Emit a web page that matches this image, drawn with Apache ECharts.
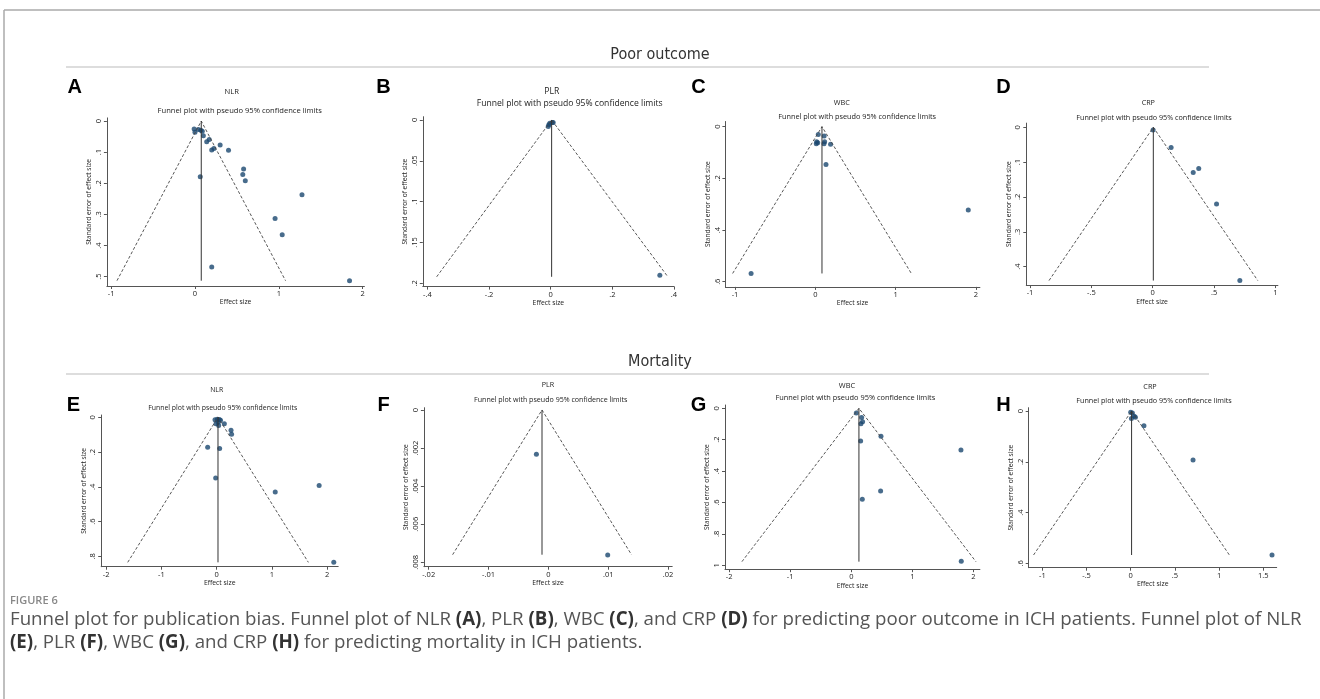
<!DOCTYPE html>
<html>
<head>
<meta charset="utf-8">
<script src="https://cdn.jsdelivr.net/npm/echarts@6/dist/echarts.min.js"></script>
<style>
html, body { margin: 0; padding: 0; background: #fff; }
#fig { width: 1320px; height: 699px; }
</style>
</head>
<body>
<div id="fig"></div>
<script>
// effect size / standard error pairs
var nlrPoor = [[-0.01,0.026],[0,0.036],[0.04,0.027],[0.07,0.03],[0.087,0.033],[0.1,0.047],[0.14,0.067],[0.17,0.059],[0.2,0.093],[0.226,0.088],[0.3,0.077],[0.4,0.094],[0.58,0.154],[0.57,0.172],[0.6,0.192],[0.063,0.179],[1.276,0.237],[0.955,0.313],[1.04,0.365],[0.2,0.469],[1.843,0.513]];
var plrPoor = [[-0.008,0.008],[-0.006,0.006],[-0.003,0.004],[0.005,0.003],[0.008,0.003],[0.354,0.19]];
var wbcPoor = [[0.037,0.03],[0.017,0.058],[0.03,0.062],[0.012,0.066],[0.11,0.036],[0.116,0.058],[0.108,0.066],[0.19,0.068],[0.133,0.146],[-0.8,0.568],[1.905,0.322]];
var crpPoor = [[0.003,0.008],[0.15,0.058],[0.33,0.13],[0.375,0.118],[0.52,0.22],[0.71,0.44]];
var nlrMort = [[-0.03,0.015],[0.012,0.012],[0.048,0.013],[0.07,0.017],[-0.012,0.038],[0.036,0.048],[0.03,0.029],[0.139,0.038],[0.26,0.075],[0.27,0.098],[-0.163,0.173],[0.054,0.18],[-0.018,0.349],[1.06,0.43],[1.855,0.393],[2.12,0.835]];
var plrMort = [[-0.002,0.00233],[0.00992,0.00762]];
var wbcMort = [[0.082,0.03],[0.169,0.059],[0.185,0.085],[0.158,0.098],[0.153,0.208],[0.486,0.178],[0.48,0.527],[0.18,0.58],[1.795,0.266],[1.8,0.975]];
var crpMort = [[0,0.005],[0.019,0.008],[0.04,0.021],[0.053,0.025],[0.008,0.03],[0.15,0.058],[0.706,0.193],[1.6,0.567]];

// pseudo 95% limits: [left end, pooled estimate, right end, max SE]
var nlrPoorFunnel = [-0.93, 0.075, 1.08, 0.513];
var plrPoorFunnel = [-0.37, 0.003, 0.38, 0.192];
var wbcPoorFunnel = [-1.03, 0.083, 1.196, 0.568];
var crpPoorFunnel = [-0.845, 0.005, 0.856, 0.44];
var nlrMortFunnel = [-1.61, 0.024, 1.66, 0.835];
var plrMortFunnel = [-0.016, -0.00106, 0.0139, 0.0076];
var wbcMortFunnel = [-1.79, 0.125, 2.04, 0.977];
var crpMortFunnel = [-1.10, 0.01, 1.117, 0.567];

// tick values
var xTicksA = [-1, 0, 1, 2],            yTicksA = [0, 0.1, 0.2, 0.3, 0.4, 0.5];
var xTicksB = [-0.4, -0.2, 0, 0.2, 0.4], yTicksB = [0, 0.05, 0.1, 0.15, 0.2];
var xTicksC = [-1, 0, 1, 2],            yTicksC = [0, 0.2, 0.4, 0.6];
var xTicksD = [-1, -0.5, 0, 0.5, 1],     yTicksD = [0, 0.1, 0.2, 0.3, 0.4];
var xTicksE = [-2, -1, 0, 1, 2],         yTicksE = [0, 0.2, 0.4, 0.6, 0.8];
var xTicksF = [-0.02, -0.01, 0, 0.01, 0.02], yTicksF = [0, 0.002, 0.004, 0.006, 0.008];
var xTicksG = [-2, -1, 0, 1, 2],         yTicksG = [0, 0.2, 0.4, 0.6, 0.8, 1];
var xTicksH = [-1, -0.5, 0, 0.5, 1, 1.5], yTicksH = [0, 0.2, 0.4, 0.6];

var letters = ['A', 'B', 'C', 'D', 'E', 'F', 'G', 'H'];
var measures = ['NLR', 'PLR', 'WBC', 'CRP', 'NLR', 'PLR', 'WBC', 'CRP'];

// layout of each little plot (grid box in px + axis extents)
var panels = [
  {pts: nlrPoor, fun: nlrPoorFunnel, xt: xTicksA, yt: yTicksA, left: 106.9, top: 117.9, w: 257.5, h: 168.1, xmin: -1.05, xmax: 2.02, ymin: -0.01, ymax: 0.53,
   lx: 74.7, ly: 87.5, mx: 231.7, my: 91.7, fx: 239.7, fy: 110.7, fs: 7.6},
  {pts: plrPoor, fun: plrPoorFunnel, xt: xTicksB, yt: yTicksB, left: 422.8, top: 116.7, w: 251.2, h: 169.9, xmin: -0.415, xmax: 0.4, ymin: -0.004, ymax: 0.204,
   lx: 383.5, ly: 87.5, mx: 551.7, my: 91.7, fx: 569.7, fy: 103.3, fs: 8.6},
  {pts: wbcPoor, fun: wbcPoorFunnel, xt: xTicksC, yt: yTicksC, left: 725.4, top: 121.5, w: 254.5, h: 165.4, xmin: -1.12, xmax: 2.05, ymin: -0.02, ymax: 0.62,
   lx: 698.5, ly: 87.5, mx: 841.7, my: 103, fx: 857.2, fy: 116.7, fs: 7.3},
  {pts: crpPoor, fun: crpPoorFunnel, xt: xTicksD, yt: yTicksD, left: 1026.3, top: 123.1, w: 251.6, h: 162, xmin: -1.03, xmax: 1.02, ymin: -0.012, ymax: 0.453,
   lx: 1003.5, ly: 87.5, mx: 1148.3, my: 103, fx: 1154, fy: 117.7, fs: 7.2},
  {pts: nlrMort, fun: nlrMortFunnel, xt: xTicksE, yt: yTicksE, left: 101.2, top: 415, w: 237, h: 151.7, xmin: -2.09, xmax: 2.2, ymin: -0.013, ymax: 0.86,
   lx: 73.5, ly: 405, mx: 216.7, my: 390, fx: 222.7, fy: 407.7, fs: 6.9},
  {pts: plrMort, fun: plrMortFunnel, xt: xTicksF, yt: yTicksF, left: 423.9, top: 407.7, w: 248.3, h: 159, xmin: -0.0208, xmax: 0.0207, ymin: -0.00012, ymax: 0.00823,
   lx: 383.5, ly: 405, mx: 548, my: 385, fx: 550.7, fy: 400, fs: 7.1},
  {pts: wbcMort, fun: wbcMortFunnel, xt: xTicksG, yt: yTicksG, left: 725, top: 405, w: 254.9, h: 164.2, xmin: -2.067, xmax: 2.105, ymin: -0.021, ymax: 1.025,
   lx: 698.5, ly: 405, mx: 847, my: 386, fx: 855.3, fy: 398.3, fs: 7.4},
  {pts: crpMort, fun: crpMortFunnel, xt: xTicksH, yt: yTicksH, left: 1028.7, top: 407.7, w: 248, h: 160, xmin: -1.155, xmax: 1.653, ymin: -0.013, ymax: 0.617,
   lx: 1003.5, ly: 405, mx: 1150, my: 387, fx: 1154, fy: 401, fs: 7.2}
];

var statFont = '"Open Sans", "Noto Sans", sans-serif';
var navy = '#1a476f';

function stataLabel(v) {
  return String(v).replace(/^(-?)0\./, '$1.');
}

var grids = [], xAxes = [], yAxes = [], series = [], graphics = [];

panels.forEach(function (p, i) {
  grids.push({left: p.left, top: p.top, width: p.w, height: p.h});
  xAxes.push({
    type: 'value', gridIndex: i, min: p.xmin, max: p.xmax,
    name: 'Effect size', nameLocation: 'middle', nameGap: 13,
    nameTextStyle: {fontFamily: statFont, fontSize: 6.8, color: '#222'},
    axisLine: {show: true, onZero: false, lineStyle: {color: '#555', width: 1}},
    axisTick: {show: true, length: 3, customValues: p.xt, lineStyle: {color: '#555'}},
    axisLabel: {customValues: p.xt, formatter: stataLabel, fontFamily: statFont, fontSize: 7.5, color: '#222', margin: 4},
    splitLine: {show: false}
  });
  yAxes.push({
    type: 'value', gridIndex: i, min: p.ymin, max: p.ymax, inverse: true,
    name: 'Standard error of effect size', nameLocation: 'middle', nameGap: 14, nameRotate: 90,
    nameTextStyle: {fontFamily: statFont, fontSize: 6.6, color: '#222'},
    axisLine: {show: true, onZero: false, lineStyle: {color: '#555', width: 1}},
    axisTick: {show: true, length: 3, customValues: p.yt, lineStyle: {color: '#555'}},
    axisLabel: {customValues: p.yt, formatter: stataLabel, rotate: 90, fontFamily: statFont, fontSize: 7.5, color: '#222', margin: 4},
    splitLine: {show: false}
  });
  var f = p.fun;
  series.push({
    type: 'line', xAxisIndex: i, yAxisIndex: i, showSymbol: false, silent: true,
    data: [[f[0], f[3]], [f[1], 0], [f[2], f[3]]],
    lineStyle: {color: '#444', width: 0.9, type: [3, 2]}
  });
  series.push({
    type: 'line', xAxisIndex: i, yAxisIndex: i, showSymbol: false, silent: true,
    data: [[f[1], 0], [f[1], f[3]]],
    lineStyle: {color: '#333', width: 1}
  });
  series.push({
    type: 'scatter', xAxisIndex: i, yAxisIndex: i, symbolSize: 5,
    itemStyle: {color: navy}, data: p.pts
  });
  graphics.push({type: 'text', x: p.lx, y: p.ly, style: {text: letters[i], font: 'bold 20px "Liberation Sans", Arial, sans-serif', fill: '#000', align: 'center', verticalAlign: 'middle'}});
  graphics.push({type: 'text', x: p.mx, y: p.my, style: {text: measures[i], font: p.fs + 'px ' + statFont, fill: '#222', align: 'center', verticalAlign: 'middle'}});
  graphics.push({type: 'text', x: p.fx, y: p.fy, style: {text: 'Funnel plot with pseudo 95% confidence limits', font: p.fs + 'px ' + statFont, fill: '#222', align: 'center', verticalAlign: 'middle'}});
});

// frame, row headers and caption
var headFont = '16px "Liberation Sans Narrow", "DejaVu Sans Condensed", sans-serif';
var capFont = '18.7px "Open Sans", "Noto Sans", sans-serif';
var capBold = 'bold 18.7px "Open Sans", "Noto Sans", sans-serif';
graphics.push(
  {type: 'line', shape: {x1: 4, y1: 10, x2: 1320, y2: 10}, style: {stroke: '#aaa', lineWidth: 1.5}},
  {type: 'line', shape: {x1: 4, y1: 10, x2: 4, y2: 699}, style: {stroke: '#aaa', lineWidth: 1.5}},
  {type: 'text', x: 660, y: 55, style: {text: 'Poor outcome', font: headFont, fill: '#333', align: 'center', verticalAlign: 'middle'}},
  {type: 'line', shape: {x1: 66, y1: 67, x2: 1209, y2: 67}, style: {stroke: '#ddd', lineWidth: 2}},
  {type: 'text', x: 660, y: 362, style: {text: 'Mortality', font: headFont, fill: '#333', align: 'center', verticalAlign: 'middle'}},
  {type: 'line', shape: {x1: 66, y1: 374, x2: 1209, y2: 374}, style: {stroke: '#ddd', lineWidth: 2}},
  {type: 'text', x: 10, y: 601, style: {text: 'FIGURE 6', font: '600 11px "Open Sans", sans-serif', fill: '#888', verticalAlign: 'middle'}},
  {type: 'text', x: 10, y: 620, style: {
    text: 'Funnel plot for publication bias. Funnel plot of NLR {b|(A)}, PLR {b|(B)}, WBC {b|(C)}, and CRP {b|(D)} for predicting poor outcome in ICH patients. Funnel plot of NLR',
    font: capFont, fill: '#555', verticalAlign: 'middle',
    rich: {b: {font: capBold, fill: '#333'}}}},
  {type: 'text', x: 10, y: 643, style: {
    text: '{b|(E)}, PLR {b|(F)}, WBC {b|(G)}, and CRP {b|(H)} for predicting mortality in ICH patients.',
    font: capFont, fill: '#555', verticalAlign: 'middle',
    rich: {b: {font: capBold, fill: '#333'}}}}
);

var chart = echarts.init(document.getElementById('fig'), null, {renderer: 'canvas'});
chart.setOption({
  animation: false,
  backgroundColor: '#fff',
  grid: grids,
  xAxis: xAxes,
  yAxis: yAxes,
  series: series,
  graphic: graphics
});
</script>
</body>
</html>
